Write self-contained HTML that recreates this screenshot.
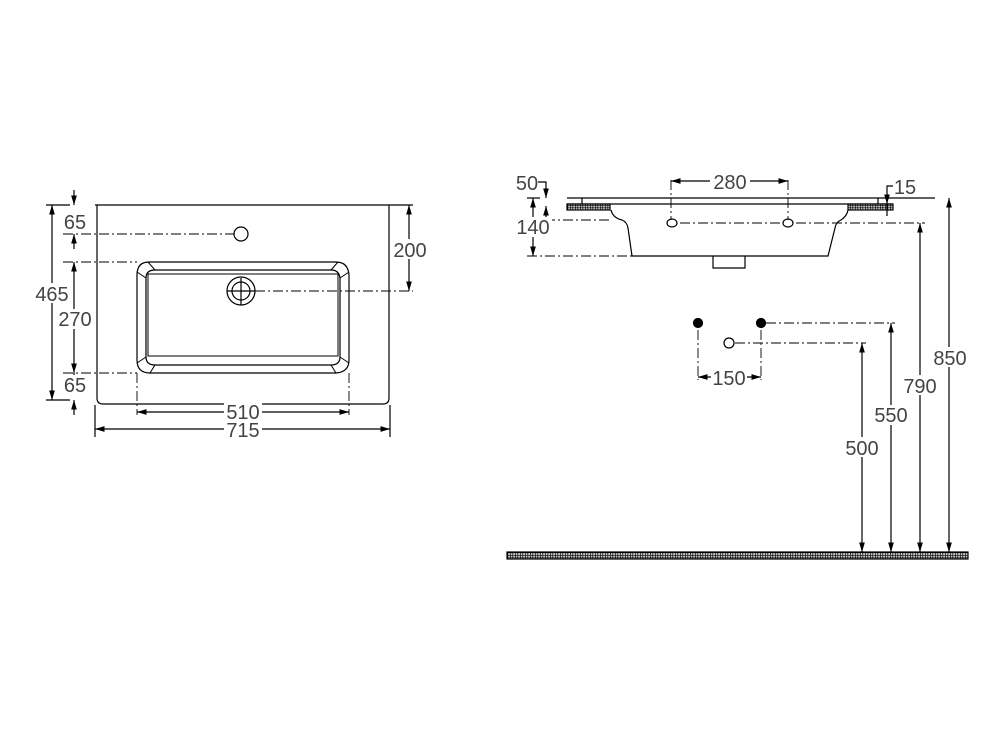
<!DOCTYPE html>
<html><head><meta charset="utf-8"><style>
html,body{margin:0;padding:0;background:#fff;width:1000px;height:750px;overflow:hidden}
text{font-family:"Liberation Sans",sans-serif;font-size:20px;fill:#444}
</style></head><body>
<svg width="1000" height="750" viewBox="0 0 1000 750" xmlns="http://www.w3.org/2000/svg">
<defs>
<marker id="a" viewBox="0 0 10 6" refX="10" refY="3" markerWidth="8" markerHeight="5" orient="auto-start-reverse"><path d="M0,0L10,3L0,6z" fill="#000"/></marker>
<pattern id="h" width="2.5" height="2.5" patternUnits="userSpaceOnUse"><rect width="2.5" height="2.5" fill="#ccc"/><path d="M0,0H2.5M0,0V2.5" stroke="#000" stroke-width="1.3"/></pattern>
</defs>
<g stroke="#000" stroke-width="1.2" fill="none">
<!-- LEFT PLAN -->
<path d="M95,205H413"/>
<path d="M97,205V398Q97,404 103,404H383Q389,404 389,398V205"/>
<path d="M149,262H336Q348,262 349,275V360Q349,372 336,373H150Q137,373 137,360V275Q137,262 149,262Z"/>
<path d="M155,270H331Q339,270 340,278V357Q340,365 331,365H155Q146,365 146,357V278Q146,270 155,270Z"/>
<path d="M148,274H338V356H148Z" stroke-width="1"/>
<path d="M137,272L146,278M349,272L340,278M137,363L146,357M349,363L340,357M148,262L155,270M338,262L331,270M150,373L155,365M336,373L331,365" stroke-width="1"/>
<circle cx="241" cy="234" r="7"/>
<circle cx="241" cy="291" r="14"/><circle cx="241" cy="291" r="9"/>
<path d="M241,278V305M227,291H255"/>
<g stroke-dasharray="10,3,2,3" stroke-width="0.9">
<path d="M63,234H234M63,262H137M63,373H137M255,291H413M137,373V415M349,373V415"/>
</g>
<path d="M52,205V400" marker-start="url(#a)" marker-end="url(#a)"/>
<path d="M46,205H70M46,400H70"/>
<path d="M74,190V205" marker-end="url(#a)"/><path d="M74,249V234" marker-end="url(#a)"/>
<path d="M74,262V373" marker-start="url(#a)" marker-end="url(#a)"/>
<path d="M74,388V373" marker-end="url(#a)"/><path d="M74,400V415" marker-start="url(#a)"/>
<path d="M409,205V291" marker-start="url(#a)" marker-end="url(#a)"/>
<path d="M137,412H349" marker-start="url(#a)" marker-end="url(#a)"/>
<path d="M95,405V437M390,405V437"/>
<path d="M95,429H390" marker-start="url(#a)" marker-end="url(#a)"/>
<!-- RIGHT ELEVATION -->
<path d="M567,198H935M567,204H893"/>
<rect x="567" y="204" width="43" height="6" fill="url(#h)"/>
<rect x="848" y="204" width="45" height="6" fill="url(#h)"/>
<path d="M582,198V204M878,198V204"/>
<path d="M611,210Q613,218 622,220Q627,222 628,228L632,256H828L835,228Q836,222 841,220Q847,216 848,210"/>
<path d="M713,256V268H745V256"/>
<ellipse cx="672" cy="223" rx="5" ry="4"/><ellipse cx="788" cy="223" rx="5" ry="4"/>
<g stroke-dasharray="10,3,2,3" stroke-width="0.9">
<path d="M545,220H610M680,223H780M796,223H925M527,256H632M671,180V220M788,180V220"/>
<path d="M766,323H895M735,343H866M698,330V380M761,330V380"/>
</g>
<path d="M671,181H788" marker-start="url(#a)" marker-end="url(#a)"/>
<path d="M538,182H546V198" marker-end="url(#a)"/>
<path d="M546,220V206" marker-end="url(#a)"/>
<path d="M533,198V256" marker-start="url(#a)" marker-end="url(#a)"/>
<path d="M527,198H540"/>
<path d="M893,186H887V204" marker-end="url(#a)"/><path d="M887,204V216"/>
<circle cx="698" cy="323" r="4.5" fill="#000"/><circle cx="761" cy="323" r="4.5" fill="#000"/>
<circle cx="729" cy="343" r="5"/>
<path d="M698,377H761" marker-start="url(#a)" marker-end="url(#a)"/>
<path d="M949,198V552" marker-start="url(#a)" marker-end="url(#a)"/>
<path d="M920,223V552" marker-start="url(#a)" marker-end="url(#a)"/>
<path d="M891,323V552" marker-start="url(#a)" marker-end="url(#a)"/>
<path d="M862,343V552" marker-start="url(#a)" marker-end="url(#a)"/>
<rect x="507" y="552" width="461" height="7" fill="url(#h)"/>
</g>
<g>
<rect x="60" y="211" width="30" height="20" fill="#fff"/><text x="75" y="229" text-anchor="middle">65</text>
<rect x="32" y="283" width="40" height="20" fill="#fff"/><text x="52" y="301" text-anchor="middle">465</text>
<rect x="54" y="309" width="42" height="20" fill="#fff"/><text x="75" y="326" text-anchor="middle">270</text>
<rect x="60" y="375" width="30" height="20" fill="#fff"/><text x="75" y="392" text-anchor="middle">65</text>
<rect x="390" y="239" width="40" height="20" fill="#fff"/><text x="410" y="257" text-anchor="middle">200</text>
<rect x="224" y="402" width="38" height="20" fill="#fff"/><text x="243" y="419" text-anchor="middle">510</text>
<rect x="224" y="420" width="38" height="20" fill="#fff"/><text x="243" y="437" text-anchor="middle">715</text>
<text x="527" y="190" text-anchor="middle">50</text>
<rect x="514" y="217" width="38" height="20" fill="#fff"/><text x="533" y="234" text-anchor="middle">140</text>
<rect x="710" y="171" width="40" height="20" fill="#fff"/><text x="730" y="189" text-anchor="middle">280</text>
<text x="905" y="194" text-anchor="middle">15</text>
<rect x="711" y="367" width="36" height="20" fill="#fff"/><text x="729" y="385" text-anchor="middle">150</text>
<rect x="930" y="347" width="40" height="20" fill="#fff"/><text x="950" y="365" text-anchor="middle">850</text>
<rect x="900" y="375" width="40" height="20" fill="#fff"/><text x="920" y="393" text-anchor="middle">790</text>
<rect x="871" y="405" width="40" height="20" fill="#fff"/><text x="891" y="422" text-anchor="middle">550</text>
<rect x="842" y="437" width="40" height="20" fill="#fff"/><text x="862" y="455" text-anchor="middle">500</text>
</g>
</svg>
</body></html>
